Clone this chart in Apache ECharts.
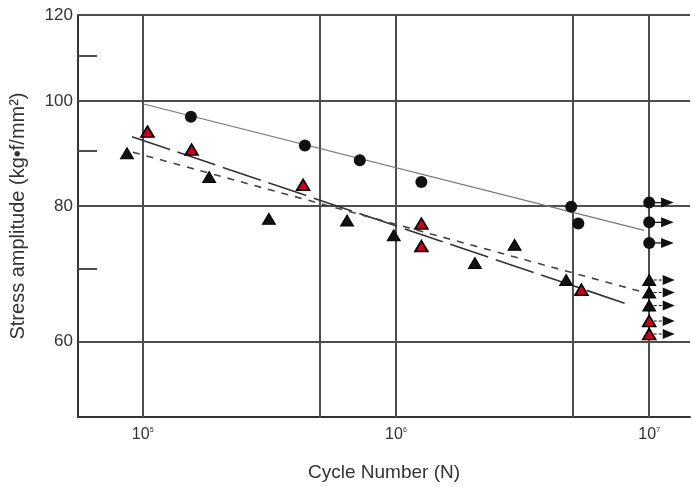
<!DOCTYPE html>
<html>
<head>
<meta charset="utf-8">
<script src="https://cdn.jsdelivr.net/npm/echarts@6/dist/echarts.min.js"></script>
<style>
  html, body { margin: 0; padding: 0; background: #fff; }
  #main { width: 693px; height: 487px; }
</style>
</head>
<body>
<div id="main"></div>
<script>
// circles (upper curve); points at 1e7 are run-outs
const circlePoints = [
  [1.55e5, 96.7], [4.37e5, 91.0], [7.2e5, 88.2], [1.26e6, 84.2],
  [4.92e6, 79.9], [5.25e6, 77.1],
  [1e7, 80.6], [1e7, 77.3], [1e7, 74.0]
];
const redTriPoints = [
  [1.045e5, 93.7], [1.56e5, 90.2], [4.3e5, 83.7], [1.26e6, 77.1],
  [1.26e6, 73.5], [5.4e6, 67.0],
  [1e7, 62.7], [1e7, 61.0]
];
const blackTriPoints = [
  [8.67e4, 89.5], [1.83e5, 85.1], [3.15e5, 77.9], [6.41e5, 77.6],
  [9.8e5, 75.2], [2.05e6, 70.9], [2.94e6, 73.7], [4.7e6, 68.4],
  [1e7, 68.4], [1e7, 66.6], [1e7, 64.8]
];
// fitted S-N lines
const circleFit = [[1e5, 99.4], [9.55e6, 76.0]];
const redTriFit = [[9.07e4, 92.7], [8.02e6, 65.1]];
const blackTriFit = [[9.15e4, 89.7], [9.37e6, 66.7]];

const xGridValues = [1e5, 5e5, 1e6, 5e6, 1e7];
const yGridValues = [120, 100, 80, 60];
const yMinorTicks = [110, 90, 70];

const xMin = Math.pow(10, 4.7446);
const xMax = Math.pow(10, 7.1611);
const yMin = 51.15;
const yMax = 120;
const runout = 1e7;

const gridColor = '#4d4d4d';
const narrow = '"Liberation Sans Narrow", "Arial Narrow", sans-serif';
const sans = '"Liberation Sans", Arial, sans-serif';

const myChart = echarts.init(document.getElementById('main'));

const gridLines = [];
xGridValues.forEach(v => {
  gridLines.push({ xAxis: v, label: { show: false } });
});
yGridValues.forEach(v => {
  gridLines.push({
    yAxis: v,
    label: {
      show: true, position: 'start', distance: 5, formatter: String(v),
      fontFamily: narrow, fontSize: 17, color: '#333'
    }
  });
});
yMinorTicks.forEach(v => {
  gridLines.push([
    { coord: [xMin, v], label: { show: false } },
    { coord: [66000, v] }
  ]);
});

const solidArrow = 'path://M0,4.4 H8 V5.6 H0 Z M8,0 L20,5 L8,10 Z';
const dashArrow = 'path://M0,4.5 H3 V5.5 H0 Z M5,4.5 H8 V5.5 H5 Z M9,0 L21,5 L9,10 Z';

const option = {
  animation: false,
  grid: { left: 78, top: 15, right: 0, bottom: 65 },
  xAxis: {
    type: 'log',
    min: xMin,
    max: xMax,
    name: 'Cycle Number (N)',
    nameLocation: 'middle',
    nameGap: 46,
    nameTextStyle: { fontFamily: sans, fontSize: 19, color: '#333' },
    axisLine: { lineStyle: { color: '#333', width: 2 } },
    axisTick: { show: false },
    splitLine: { show: false },
    axisLabel: {
      margin: 10,
      formatter: v => {
        const e = Math.log10(v);
        if (Math.abs(e - Math.round(e)) > 1e-6) return '';
        return '{b|10}{s|' + Math.round(e) + '}';
      },
      rich: {
        b: { fontFamily: narrow, fontSize: 16, color: '#333' },
        s: { fontFamily: narrow, fontSize: 7, color: '#333', verticalAlign: 'top', padding: [0, 0, 8, 0] }
      }
    }
  },
  yAxis: {
    type: 'log',
    min: yMin,
    max: yMax,
    name: 'Stress amplitude (kg•f/mm²)',
    nameLocation: 'middle',
    nameGap: 50,
    nameTextStyle: { fontFamily: sans, fontSize: 20, color: '#333' },
    axisLine: { lineStyle: { color: '#333', width: 2 } },
    axisTick: { show: false },
    axisLabel: { show: false },
    splitLine: { show: false }
  },
  series: [
    {
      name: 'grid',
      type: 'line',
      data: [],
      silent: true,
      markLine: {
        silent: true,
        symbol: 'none',
        z: 1,
        lineStyle: { color: gridColor, width: 2, type: 'solid' },
        data: gridLines
      }
    },
    {
      name: 'circle fit', type: 'line', data: circleFit, showSymbol: false,
      lineStyle: { color: '#777', width: 1.2 }, z: 3
    },
    {
      name: 'red fit', type: 'line', data: redTriFit, showSymbol: false,
      lineStyle: { color: '#333', width: 1.6, type: [40, 8] }, z: 3
    },
    {
      name: 'black fit', type: 'line', data: blackTriFit, showSymbol: false,
      lineStyle: { color: '#444', width: 1.6, type: [7, 7] }, z: 3
    },
    {
      name: 'circles', type: 'scatter', data: circlePoints,
      symbol: 'circle', symbolSize: 12,
      itemStyle: { color: '#111', opacity: 1 }, z: 5
    },
    {
      name: 'black triangles', type: 'scatter', data: blackTriPoints,
      symbol: 'triangle', symbolSize: [13, 11],
      itemStyle: { color: '#111', borderColor: '#000', borderWidth: 1, opacity: 1 }, z: 5
    },
    {
      name: 'red triangles', type: 'scatter', data: redTriPoints,
      symbol: 'triangle', symbolSize: [13, 11],
      itemStyle: { color: '#c8001e', borderColor: '#000', borderWidth: 1.6, opacity: 1 }, z: 5
    },
    {
      name: 'circle runouts', type: 'scatter',
      data: circlePoints.filter(p => p[0] >= runout),
      symbol: solidArrow, symbolSize: [21, 10], symbolOffset: [14, 0],
      itemStyle: { color: '#111', opacity: 1 }, z: 4
    },
    {
      name: 'triangle runouts', type: 'scatter',
      data: blackTriPoints.concat(redTriPoints).filter(p => p[0] >= runout),
      symbol: dashArrow, symbolSize: [21, 10], symbolOffset: [15, 0],
      itemStyle: { color: '#111', opacity: 1 }, z: 4
    }
  ]
};
myChart.setOption(option);
</script>
</body>
</html>
